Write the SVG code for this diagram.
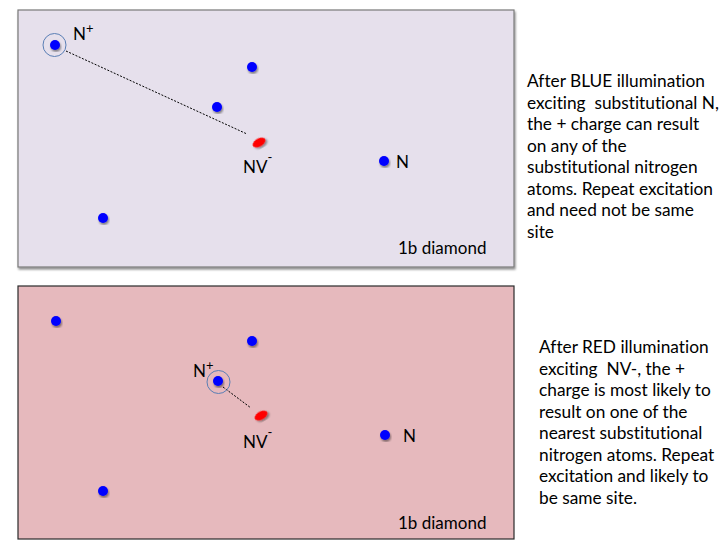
<svg xmlns="http://www.w3.org/2000/svg" width="720" height="540" viewBox="0 0 720 540">
<defs>
<filter id="sh" x="-20%" y="-20%" width="140%" height="140%">
<feGaussianBlur in="SourceAlpha" stdDeviation="1.2"/>
<feOffset dx="1" dy="1.5" result="b"/>
<feComponentTransfer><feFuncA type="linear" slope="0.45"/></feComponentTransfer>
<feMerge><feMergeNode/><feMergeNode in="SourceGraphic"/></feMerge>
</filter>
</defs>
<style>
.t{font-family:Lato,"Open Sans","Liberation Sans",sans-serif;font-size:17.3px;fill:#000;font-variant-ligatures:none}
.lbl{font-family:Lato,"Open Sans","Liberation Sans",sans-serif;font-size:17px;fill:#000;font-variant-ligatures:none}
.sup{font-size:13px}
.dot{fill:#0000ff}
.nv{fill:#ff0000}
.ring{fill:none;stroke:#5a7fb5;stroke-width:1}
.conn{stroke:#000;stroke-width:1;stroke-dasharray:2,1.5}
</style>
<rect width="720" height="540" fill="#fff"/>
<g id="panel-blue">
<rect x="18" y="10" width="496" height="257" fill="#e6e0ec" stroke="#7a7a7a" stroke-width="1.2" filter="url(#sh)"/>
<text class="lbl" x="398" y="254">1b diamond</text>
</g>
<g id="panel-red">
<rect x="18" y="286" width="496" height="253" fill="#e6b9bd" stroke="#2a2a2a" stroke-width="1.2"/>
<text class="lbl" x="398" y="529">1b diamond</text>
</g>
<g id="connectors">
<line class="conn" x1="66" y1="51" x2="247" y2="134"/>
<line class="conn" x1="223" y1="387" x2="251" y2="408"/>
</g>
<g id="blue-nplus">
<circle class="ring" cx="54.5" cy="45" r="11.5"/>
<circle class="dot" cx="55" cy="45" r="5" filter="url(#sh)"/>
<text class="lbl" x="73" y="40">N<tspan class="sup" dy="-7">+</tspan></text>
</g>
<g id="blue-n1"><circle class="dot" cx="252" cy="67" r="5" filter="url(#sh)"/></g>
<g id="blue-n2"><circle class="dot" cx="217" cy="107" r="5" filter="url(#sh)"/></g>
<g id="blue-n3"><circle class="dot" cx="384" cy="161" r="5" filter="url(#sh)"/><text class="lbl" x="396" y="168">N</text></g>
<g id="blue-n4"><circle class="dot" cx="103" cy="218" r="5" filter="url(#sh)"/></g>
<g id="blue-nv">
<ellipse class="nv" cx="259" cy="142.5" rx="7" ry="4" transform="rotate(-30 259 142.5)" filter="url(#sh)"/>
<text class="lbl" x="243" y="173">NV<tspan class="sup" dy="-11">-</tspan></text>
</g>
<g id="red-n1"><circle class="dot" cx="56" cy="321" r="5" filter="url(#sh)"/></g>
<g id="red-n2"><circle class="dot" cx="252" cy="341" r="5" filter="url(#sh)"/></g>
<g id="red-nplus">
<circle class="ring" cx="218.5" cy="382" r="11.5"/>
<circle class="dot" cx="218" cy="381" r="5" filter="url(#sh)"/>
<text class="lbl" x="193" y="377">N<tspan class="sup" dy="-7">+</tspan></text>
</g>
<g id="red-n3"><circle class="dot" cx="385" cy="435" r="5" filter="url(#sh)"/><text class="lbl" x="403" y="442">N</text></g>
<g id="red-n4"><circle class="dot" cx="103" cy="491" r="5" filter="url(#sh)"/></g>
<g id="red-nv">
<ellipse class="nv" cx="261" cy="415.5" rx="7" ry="4" transform="rotate(-30 261 415.5)" filter="url(#sh)"/>
<text class="lbl" x="243" y="448">NV<tspan class="sup" dy="-11">-</tspan></text>
</g>
<g id="text-blue">
<text class="t" x="527" y="87">After BLUE illumination</text>
<text class="t" x="527" y="108.5" xml:space="preserve">exciting  substitutional N,</text>
<text class="t" x="527" y="130">the + charge can result</text>
<text class="t" x="527" y="151.5">on any of the</text>
<text class="t" x="527" y="173">substitutional nitrogen</text>
<text class="t" x="527" y="194.5">atoms. Repeat excitation</text>
<text class="t" x="527" y="216">and need not be same</text>
<text class="t" x="527" y="237.5">site</text>
</g>
<g id="text-red">
<text class="t" x="539" y="353">After RED illumination</text>
<text class="t" x="539" y="374.5" xml:space="preserve">exciting  NV-, the +</text>
<text class="t" x="539" y="396">charge is most likely to</text>
<text class="t" x="539" y="417.5">result on one of the</text>
<text class="t" x="539" y="439">nearest substitutional</text>
<text class="t" x="539" y="460.5">nitrogen atoms. Repeat</text>
<text class="t" x="539" y="482">excitation and likely to</text>
<text class="t" x="539" y="503.5">be same site.</text>
</g>
</svg>
